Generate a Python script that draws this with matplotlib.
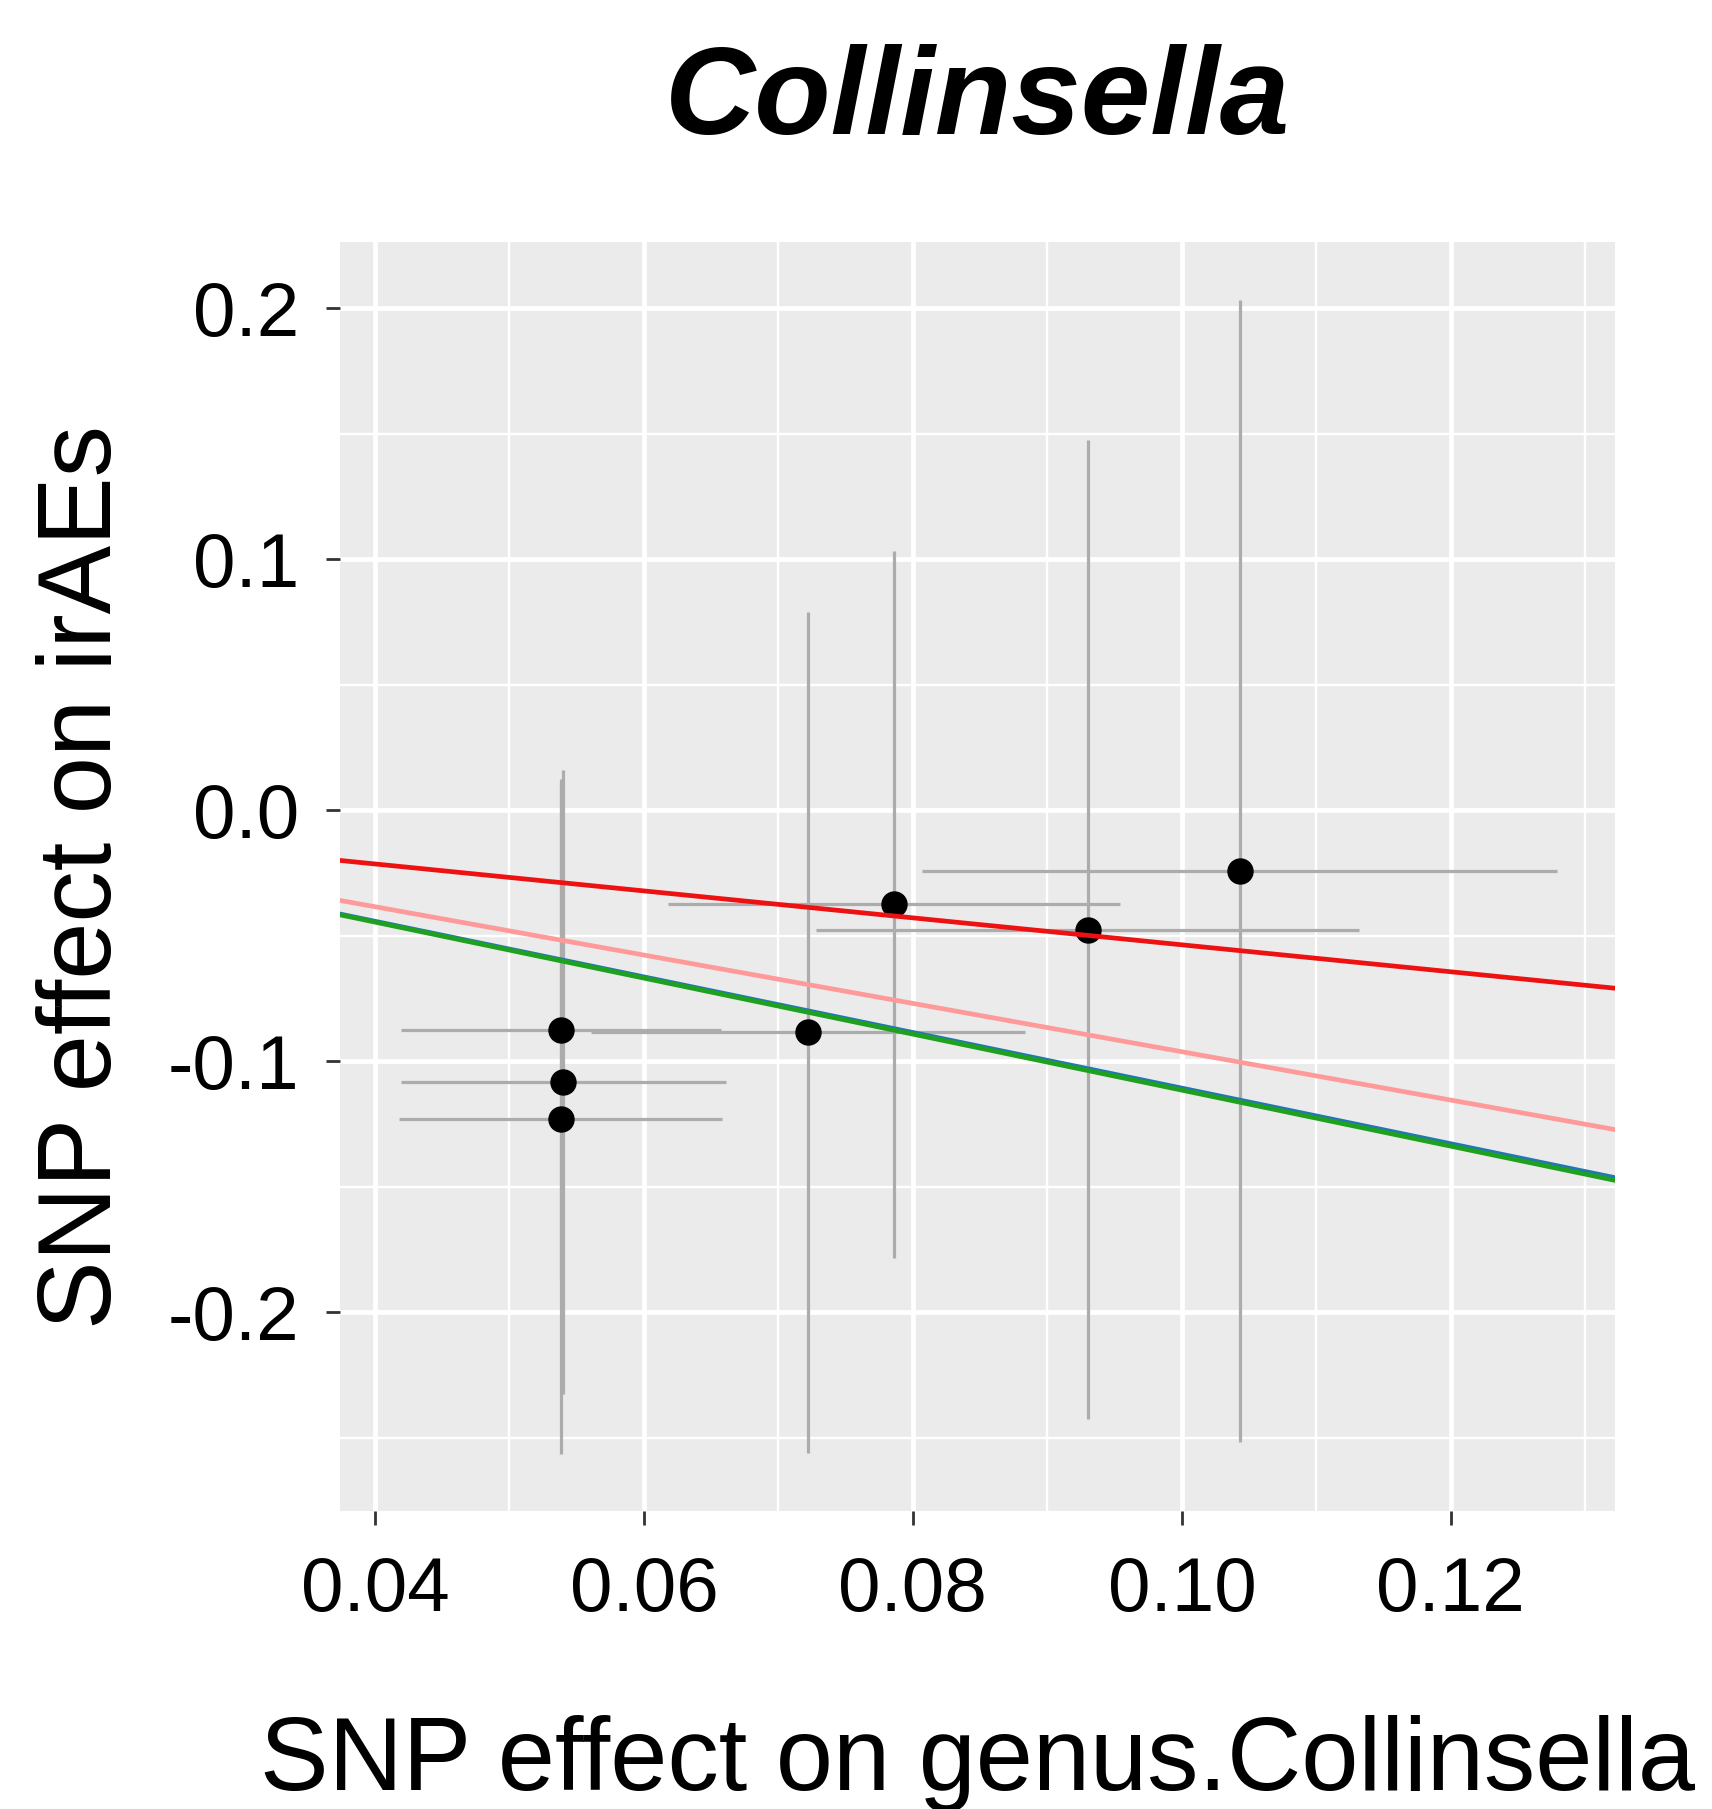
import numpy as np
import matplotlib
matplotlib.use("Agg")
import matplotlib.pyplot as plt

plt.rcParams["font.family"] = ["Liberation Sans", "DejaVu Sans"]
plt.rcParams["axes.unicode_minus"] = False

# SNP effects (exposure = genus Collinsella, outcome = irAEs)
beta_exposure = [0.0538, 0.0540, 0.0538, 0.0722, 0.0786, 0.0930, 0.1043]
se_exposure = [0.0119, 0.0121, 0.0120, 0.0161, 0.0168, 0.0202, 0.0236]
beta_outcome = [-0.0876, -0.1084, -0.1231, -0.0886, -0.0376, -0.0477, -0.0243]
se_outcome = [0.100, 0.1244, 0.1335, 0.1677, 0.141, 0.195, 0.2275]

# MR method fits (slope through origin)
method_names = ["Weighted median", "MR Egger", "Inverse variance weighted", "Weighted mode"]
method_slopes = [-1.108, -1.116, -0.963, -0.537]
method_colors = ["#1f78b4", "#1fa01f", "#ff9a9a", "#ee1111"]

x_ticks = [0.04, 0.06, 0.08, 0.10, 0.12]
x_minor = [0.05, 0.07, 0.09, 0.11, 0.13]
y_ticks = [-0.2, -0.1, 0.0, 0.1, 0.2]
y_minor = [-0.25, -0.15, -0.05, 0.05, 0.15]

fig = plt.figure(figsize=(17.12, 18.09), dpi=100)
ax = fig.add_axes([0.1986, 0.1647, 0.7447, 0.7015])
ax.set_facecolor("#ebebeb")
for s in ax.spines.values():
    s.set_visible(False)

# grid
for v in x_minor:
    ax.axvline(v, color="white", lw=1.7, zorder=0)
for v in y_minor:
    ax.axhline(v, color="white", lw=1.7, zorder=0)
for v in x_ticks:
    ax.axvline(v, color="white", lw=3.4, zorder=0)
for v in y_ticks:
    ax.axhline(v, color="white", lw=3.4, zorder=0)

bx = np.array(beta_exposure)
by = np.array(beta_outcome)
ax.errorbar(bx, by, yerr=se_outcome, fmt="none", ecolor="#acacac", elinewidth=2.3, capsize=0, zorder=2)
ax.errorbar(bx, by, xerr=se_exposure, fmt="none", ecolor="#acacac", elinewidth=2.3, capsize=0, zorder=2)
ax.plot(bx, by, "o", color="black", markersize=18, zorder=3)

for name, b, c in zip(method_names, method_slopes, method_colors):
    ax.axline((0, 0), slope=b, color=c, lw=3.4, zorder=4, label=name)

ax.set_xlim(0.0374, 0.1322)
ax.set_ylim(-0.2793, 0.2263)
ax.set_xticks(x_ticks)
ax.set_xticklabels(["0.04", "0.06", "0.08", "0.10", "0.12"])
ax.set_yticks(y_ticks)
ax.set_yticklabels(["-0.2", "-0.1", "0.0", "0.1", "0.2"])
ax.tick_params(axis="both", length=10, width=2, color="#333333", labelsize=55, labelcolor="black")
ax.tick_params(axis="x", pad=22)
ax.tick_params(axis="y", pad=19)

ax.set_xlabel("SNP effect on genus.Collinsella", fontsize=74, labelpad=64)
ax.set_ylabel("SNP effect on irAEs", fontsize=74, labelpad=25)
ax.set_title("Collinsella", fontsize=90, fontweight="bold", fontstyle="italic", pad=78)

fig.savefig("out.png", dpi=100)
